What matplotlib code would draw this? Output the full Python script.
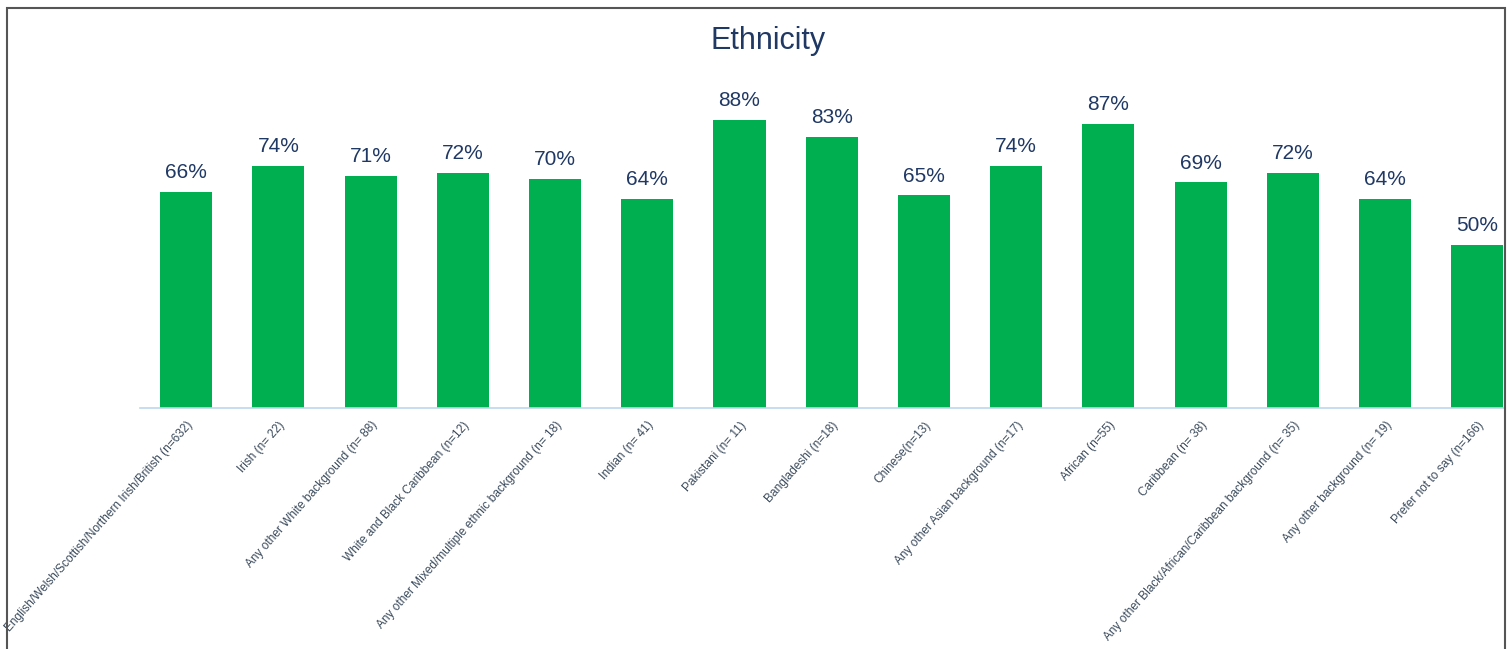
import matplotlib.pyplot as plt
from matplotlib.patches import Rectangle

plt.rcParams["font.family"] = ["Liberation Sans", "DejaVu Sans"]

# data
categories = [
    "English/Welsh/Scottish/Northern Irish/British (n=632)",
    "Irish (n= 22)",
    "Any other White background (n= 88)",
    "White and Black Caribbean (n=12)",
    "Any other Mixed/multiple ethnic background (n= 18)",
    "Indian (n= 41)",
    "Pakistani (n= 11)",
    "Bangladeshi (n=18)",
    "Chinese(n=13)",
    "Any other Asian background (n=17)",
    "African (n=55)",
    "Caribbean (n= 38)",
    "Any other Black/African/Caribbean background (n= 35)",
    "Any other background (n= 19)",
    "Prefer not to say (n=166)",
]
values = [66, 74, 71, 72, 70, 64, 88, 83, 65, 74, 87, 69, 72, 64, 50]

green = "#00B050"
navy = "#1F3864"

fig = plt.figure(figsize=(15.12, 6.49), dpi=100)
ax = fig.add_axes([140 / 1512, 1 - 408 / 649, (1505 - 140) / 1512, 327 / 649])

x = list(range(len(values)))
ax.bar(x, values, width=0.565, color=green, zorder=2)

for xi, v in zip(x, values):
    ax.text(xi, v + 3.0, f"{v}%", ha="center", va="bottom", fontsize=15, color=navy)

ax.set_xlim(-0.5, 14.3)
ax.set_ylim(0, 100)
ax.set_yticks([])
ax.set_xticks(x)
ax.set_xticklabels(categories, rotation=48.5, ha="right", rotation_mode="anchor",
                   fontsize=8.6, color="#3A4A5C")
ax.tick_params(axis="x", length=0, pad=8)
for s in ["top", "right", "left"]:
    ax.spines[s].set_visible(False)
ax.spines["bottom"].set_color("#BDD7EE")
ax.spines["bottom"].set_linewidth(1.2)

fig.text(768 / 1512, 1 - 41 / 649, "Ethnicity", ha="center", va="center",
         fontsize=22, color=navy)

# outer frame of the chart area
fig.patches.append(Rectangle((7 / 1512, -0.05), (1505 - 7) / 1512, 1.05 - 8 / 649,
                             transform=fig.transFigure, fill=False,
                             edgecolor="#555555", linewidth=1.5))

fig.savefig("out.png", dpi=100)
